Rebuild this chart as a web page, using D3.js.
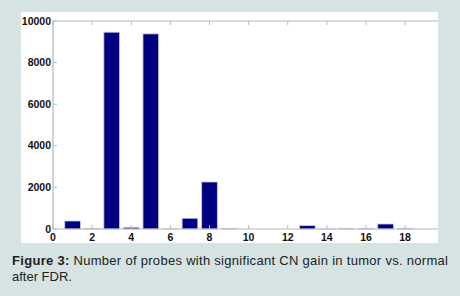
<!DOCTYPE html>
<html>
<head>
<meta charset="utf-8">
<script src="https://cdn.jsdelivr.net/npm/d3@7"></script>
<style>
  body { margin: 0; background: #d5e3e3; }
  svg { display: block; }
  .cap { font-family: Arial, "Liberation Sans", sans-serif; font-size: 13px; fill: #222; }
</style>
</head>
<body>
<svg></svg>
<script>
var categories = [1, 2, 3, 4, 5, 6, 7, 8, 9, 10, 11, 12, 13, 14, 15, 16, 17, 18];
var counts = [385, 20, 9460, 80, 9380, 5, 515, 2260, 20, 0, 0, 0, 160, 5, 10, 12, 240, 15];
var xTicks = [0, 2, 4, 6, 8, 10, 12, 14, 16, 18];
var yTicks = [0, 2000, 4000, 6000, 8000, 10000];

var svg = d3.select("svg")
    .attr("width", 460)
    .attr("height", 296);

// white figure panel
svg.append("rect")
    .attr("x", 21).attr("y", 12)
    .attr("width", 417).attr("height", 231)
    .attr("fill", "#fff");

var plotLeft = 53, plotRight = 438, plotTop = 21, plotBottom = 229;

var x = d3.scaleLinear().domain([0, 19.68]).range([plotLeft, plotRight]);
var y = d3.scaleLinear().domain([0, 10000]).range([plotBottom, plotTop]);

var g = svg.append("g");

// bars
g.selectAll("rect.bar")
    .data(categories)
    .enter().append("rect")
    .attr("class", "bar")
    .attr("x", function(d) { return x(d - 0.4); })
    .attr("width", function(d) { return x(0.8) - x(0); })
    .attr("y", function(d, i) { return y(counts[i]); })
    .attr("height", function(d, i) { return plotBottom - y(counts[i]); })
    .attr("fill", "#000080")
    .attr("stroke", "#c8c8d8")
    .attr("stroke-width", 0.8);

// axes lines
var axisColor = "#b8b8b8";
g.append("line").attr("x1", plotLeft).attr("x2", plotRight).attr("y1", plotBottom).attr("y2", plotBottom)
    .attr("stroke", axisColor).attr("stroke-width", 1.2);
g.append("line").attr("x1", plotLeft).attr("x2", plotRight).attr("y1", plotTop).attr("y2", plotTop)
    .attr("stroke", axisColor).attr("stroke-width", 1.2);
g.append("line").attr("x1", plotLeft).attr("x2", plotLeft).attr("y1", plotTop).attr("y2", plotBottom)
    .attr("stroke", axisColor).attr("stroke-width", 1.2);

// x ticks (inside, top and bottom)
g.selectAll("line.xb").data(xTicks).enter().append("line")
    .attr("x1", function(d) { return x(d); }).attr("x2", function(d) { return x(d); })
    .attr("y1", plotBottom).attr("y2", plotBottom - 4)
    .attr("stroke", axisColor);
g.selectAll("line.xt").data(xTicks).enter().append("line")
    .attr("x1", function(d) { return x(d); }).attr("x2", function(d) { return x(d); })
    .attr("y1", plotTop).attr("y2", plotTop + 4)
    .attr("stroke", axisColor);
g.selectAll("line.yt").data(yTicks).enter().append("line")
    .attr("x1", plotLeft).attr("x2", plotLeft + 4)
    .attr("y1", function(d) { return y(d); }).attr("y2", function(d) { return y(d); })
    .attr("stroke", axisColor);

// tick labels
g.selectAll("text.xl").data(xTicks).enter().append("text")
    .attr("x", function(d) { return x(d); })
    .attr("y", plotBottom + 12)
    .attr("text-anchor", "middle")
    .attr("font-family", "Arial, 'Liberation Sans', sans-serif")
    .attr("font-size", 10.5).attr("font-weight", "bold")
    .attr("fill", "#111")
    .text(function(d) { return d; });

g.selectAll("text.yl").data(yTicks).enter().append("text")
    .attr("x", plotLeft - 2)
    .attr("y", function(d) { return y(d) + 3.5; })
    .attr("text-anchor", "end")
    .attr("font-family", "Arial, 'Liberation Sans', sans-serif")
    .attr("font-size", 10.5).attr("font-weight", "bold")
    .attr("fill", "#111")
    .text(function(d) { return d; });

// caption
var cap1 = svg.append("text").attr("class", "cap")
    .attr("x", 12).attr("y", 265)
    .attr("textLength", 436).attr("lengthAdjust", "spacing");
cap1.append("tspan").attr("font-weight", "bold").text("Figure 3:");
cap1.append("tspan").text(" Number of probes with significant CN gain in tumor vs. normal");
svg.append("text").attr("class", "cap")
    .attr("x", 12).attr("y", 281)
    .text("after FDR.");
</script>
</body>
</html>
